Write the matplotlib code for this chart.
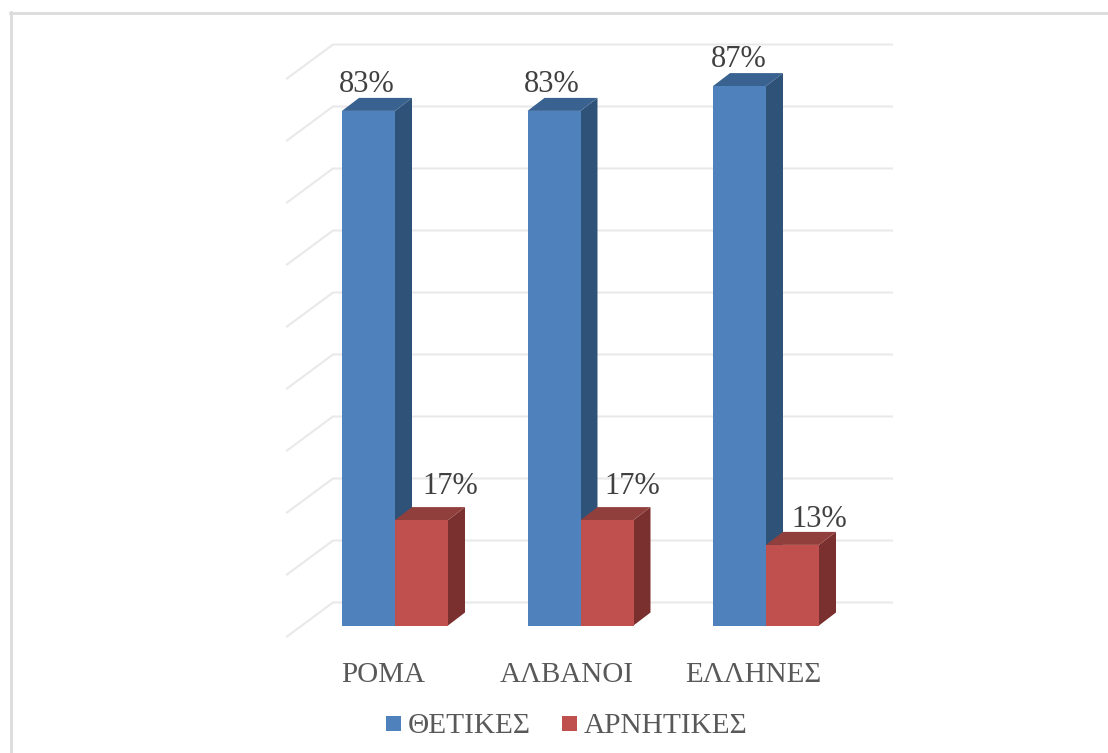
import matplotlib
matplotlib.use('Agg')
import matplotlib.pyplot as plt
from matplotlib.patches import Polygon, Rectangle

groups = ['ΡΟΜΑ', 'ΑΛΒΑΝΟΙ', 'ΕΛΛΗΝΕΣ']
positive = [83, 83, 87]
negative = [17, 17, 13]
grid_values = list(range(0, 100, 10))

W, H = 1108, 753
PX_GROUP = 185.5   # pixels between groups
PX_PCT = 6.2       # pixels per percent
X0, Y0 = 395, 625.5  # pixel position of group 0, value 0


def ux(px):
    return px / PX_GROUP


def uy(px):
    return px / PX_PCT


fig = plt.figure(figsize=(W / 100, H / 100), dpi=100)
plt.rcParams['font.family'] = ['Liberation Serif', 'DejaVu Serif']
ax = fig.add_axes([0, 0, 1, 1])
ax.set_xlim(-X0 / PX_GROUP, (W - X0) / PX_GROUP)
ax.set_ylim(-(H - Y0) / PX_PCT, Y0 / PX_PCT)
ax.axis('off')

# outer frame, only top and left show
frame = '#dcdcdc'
fig.add_artist(plt.Line2D([11 / W, 11 / W], [0, 1 - 12 / H], color=frame, lw=2))
fig.add_artist(plt.Line2D([10 / W, 1], [1 - 13 / H, 1 - 13 / H], color=frame, lw=2))

# back wall gridlines with the diagonal running over the floor side
wall_left = ux(333 - X0)
wall_right = ux(892 - X0)
wall_up = uy(23)
for v in grid_values:
    ax.plot([ux(287 - X0), wall_left, wall_right],
            [v - uy(11), v + wall_up, v + wall_up],
            color='#e9e9e9', lw=1.5, solid_joinstyle='miter', zorder=1)

bar_w = ux(53)
dx = ux(17)
dy = uy(13)


def bar3d(x0, v, front, top, side, z):
    x1 = x0 + bar_w
    ax.add_patch(Polygon([(x1, 0), (x1 + dx, dy), (x1 + dx, v + dy), (x1, v)], fc=side, ec='none', zorder=z))
    ax.add_patch(Polygon([(x0, v), (x1, v), (x1 + dx, v + dy), (x0 + dx, v + dy)], fc=top, ec='none', zorder=z))
    ax.add_patch(Rectangle((x0, 0), bar_w, v, fc=front, ec='none', zorder=z))


for i in range(len(groups)):
    bar3d(i - bar_w, positive[i], '#4f81bd', '#3a6290', '#2f5279', 2 + i)
    bar3d(i, negative[i], '#c0504d', '#913f3c', '#7a302e', 2.5 + i)

# value labels sit just over each bar, the short ones pushed right past the depth
pos_shift = [-2, -2, -1]
neg_shift = [29, 25, 27]
neg_lift = [26.5, 26.5, 18]
for i in range(len(groups)):
    ax.text(i - bar_w / 2 + ux(pos_shift[i]), positive[i] + uy(19), '%d%%' % positive[i],
            ha='center', va='baseline', fontsize=22, color='#404040', zorder=10)
    ax.text(i + bar_w / 2 + ux(neg_shift[i]), negative[i] + uy(neg_lift[i]), '%d%%' % negative[i],
            ha='center', va='baseline', fontsize=22, color='#404040', zorder=10)

# category labels
label_x = [383, 567, 753.5]
for name, px in zip(groups, label_x):
    ax.text(ux(px - X0), uy(Y0 - 682), name, ha='center', va='baseline',
            fontsize=20.9, color='#595959')

# legend
legend = [('ΘΕΤΙΚΕΣ', '#4f81bd', 386, 408), ('ΑΡΝΗΤΙΚΕΣ', '#c0504d', 562, 584)]
for name, color, box_x, text_x in legend:
    ax.add_patch(Rectangle((ux(box_x - X0), uy(Y0 - 731)), ux(15), uy(15), fc=color, ec='none'))
    ax.text(ux(text_x - X0), uy(Y0 - 733), name, ha='left', va='baseline',
            fontsize=21.2, color='#595959')

fig.savefig('out.png', dpi=100)
